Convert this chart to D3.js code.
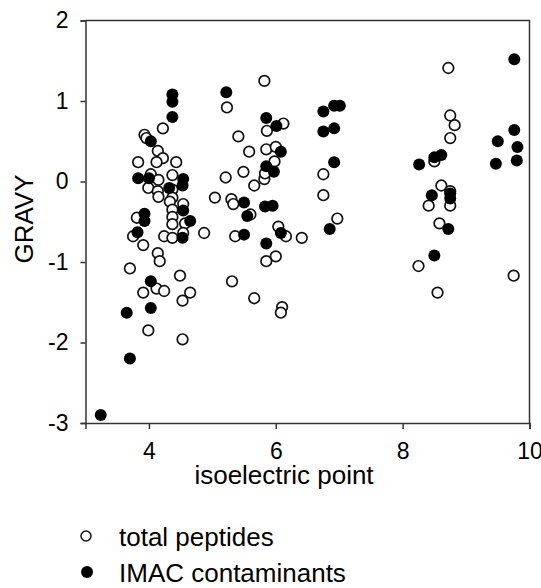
<!DOCTYPE html>
<html>
<head>
<meta charset="utf-8">
<script src="https://cdn.jsdelivr.net/npm/d3@7"></script>
<style>
    html, body { margin: 0; padding: 0; background: #fff; }
    text { font-family: "Liberation Sans", Arial, sans-serif; fill: #000; }
</style>
</head>
<body>
<div id="chart"></div>
<script>
// pI vs GRAVY
const totalPeptides = [
    [3.93, 0.58], [3.96, 0.54], [4.22, 0.66], [4.14, 0.38], [4.22, 0.29], [4.12, 0.24],
    [3.83, 0.24], [4.43, 0.24], [4.03, 0.09], [4.15, 0.02], [4.37, 0.08], [3.99, -0.08],
    [4.14, -0.12], [4.15, -0.19], [4.37, -0.10], [4.37, -0.20], [4.33, -0.25], [4.54, -0.28],
    [4.37, -0.35], [4.37, -0.44], [4.37, -0.53], [4.57, -0.52], [3.81, -0.45], [3.75, -0.68],
    [3.91, -0.79], [4.24, -0.68], [4.37, -0.70], [4.54, -0.64], [4.87, -0.64], [4.14, -0.89],
    [4.17, -0.99], [3.70, -1.08], [4.12, -1.33], [4.24, -1.36], [3.91, -1.38], [4.49, -1.17],
    [4.65, -1.38], [4.53, -1.48], [3.99, -1.85], [4.53, -1.96],
    [5.82, 1.25], [5.23, 0.92], [5.86, 0.63], [6.12, 0.72], [5.41, 0.56], [5.58, 0.37],
    [5.85, 0.40], [6.00, 0.43], [5.98, 0.25], [5.49, 0.12], [5.21, 0.05], [5.82, 0.03],
    [5.83, 0.10], [5.66, -0.05], [5.04, -0.20], [5.30, -0.22], [5.33, -0.28], [5.60, -0.41],
    [5.36, -0.68], [6.04, -0.56], [6.16, -0.68], [6.41, -0.70], [6.00, -0.93], [5.85, -0.99],
    [5.31, -1.24], [5.66, -1.45], [6.10, -1.56], [6.08, -1.63],
    [6.75, 0.09], [6.75, -0.17], [6.97, -0.46],
    [8.72, 1.41], [8.75, 0.82], [8.82, 0.70], [8.75, 0.54], [8.50, 0.25], [8.61, -0.05],
    [8.41, -0.30], [8.75, -0.30], [8.75, -0.12], [8.58, -0.52], [8.25, -1.05], [8.55, -1.38],
    [9.75, -1.17]
];

const imacContaminants = [
    [4.37, 1.08], [4.37, 0.99], [4.37, 0.80], [4.03, 0.50], [3.83, 0.04], [4.00, 0.04],
    [4.54, 0.03], [4.53, -0.05], [4.32, -0.08], [3.93, -0.40], [3.93, -0.49], [4.54, -0.36],
    [4.65, -0.49], [3.82, -0.63], [4.53, -0.70], [4.03, -1.24], [4.03, -1.57], [3.65, -1.63],
    [3.70, -2.20], [3.24, -2.90],
    [5.22, 1.11], [5.85, 0.79], [6.01, 0.69], [6.08, 0.37], [5.85, 0.19], [5.97, 0.12],
    [5.50, -0.26], [5.83, -0.31], [5.95, -0.30], [5.55, -0.43], [5.50, -0.66], [5.85, -0.77],
    [6.08, -0.64],
    [6.75, 0.87], [6.92, 0.94], [7.01, 0.94], [6.75, 0.62], [6.92, 0.66], [6.92, 0.24],
    [6.85, -0.59],
    [8.26, 0.21], [8.50, 0.30], [8.61, 0.33], [8.46, -0.17], [8.75, -0.15], [8.75, -0.21],
    [8.72, -0.59], [8.50, -0.92],
    [9.76, 1.52], [9.76, 0.64], [9.50, 0.50], [9.81, 0.43], [9.47, 0.22], [9.80, 0.26]
];

const xTicks = [4, 6, 8, 10];
const yTicks = [-3, -2, -1, 0, 1, 2];
const xTitle = "isoelectric point";
const yTitle = "GRAVY";
const legendLabels = ["total peptides", "IMAC contaminants"];

const width = 541, height = 588;

const svg = d3.select("#chart")
    .append("svg")
    .attr("width", width)
    .attr("height", height);

const x = d3.scaleLinear().domain([3, 10]).range([85.5, 529.5]);
const y = d3.scaleLinear().domain([-3, 2]).range([423, 20.5]);

const axisColor = "#333";

// frame (top + right)
svg.append("path")
    .attr("d", `M${x(3)},${y(2)}H${x(10)}V${y(-3)}`)
    .attr("fill", "none")
    .attr("stroke", axisColor)
    .attr("stroke-width", 1.5);

const xAxis = svg.append("g")
    .attr("transform", `translate(0,${y(-3)})`)
    .call(d3.axisBottom(x).tickValues(xTicks).tickSize(6).tickPadding(14)
        .tickFormat(d => String(d)));

const yAxis = svg.append("g")
    .attr("transform", `translate(${x(3)},0)`)
    .call(d3.axisLeft(y).tickValues(yTicks).tickSize(5).tickPadding(12)
        .tickFormat(d => String(d)));

[xAxis, yAxis].forEach(g => {
    g.select(".domain").attr("stroke", axisColor).attr("stroke-width", 1.5);
    g.selectAll(".tick line").attr("stroke", axisColor).attr("stroke-width", 1.5);
    g.selectAll(".tick text")
        .attr("fill", "#000")
        .style("font-size", "23px")
        .style("font-family", "'Liberation Sans', Arial, sans-serif");
});

// axis titles
svg.append("text")
    .attr("x", 284)
    .attr("y", 484)
    .attr("text-anchor", "middle")
    .style("font-size", "26px")
    .text(xTitle);

svg.append("text")
    .attr("transform", "translate(33,219) rotate(-90)")
    .attr("text-anchor", "middle")
    .style("font-size", "26px")
    .text(yTitle);

// points: open first, filled on top
svg.append("g")
    .selectAll("circle")
    .data(totalPeptides)
    .enter().append("circle")
    .attr("cx", d => x(d[0]))
    .attr("cy", d => y(d[1]))
    .attr("r", 5.3)
    .attr("fill", "#fff")
    .attr("stroke", "#111")
    .attr("stroke-width", 1.7);

svg.append("g")
    .selectAll("circle")
    .data(imacContaminants)
    .enter().append("circle")
    .attr("cx", d => x(d[0]))
    .attr("cy", d => y(d[1]))
    .attr("r", 6)
    .attr("fill", "#000");

// legend
const legend = svg.append("g");
legend.append("circle")
    .attr("cx", 86).attr("cy", 536).attr("r", 5)
    .attr("fill", "#fff").attr("stroke", "#111").attr("stroke-width", 1.5);
legend.append("circle")
    .attr("cx", 87).attr("cy", 572).attr("r", 6)
    .attr("fill", "#000");
legend.selectAll("text")
    .data(legendLabels)
    .enter().append("text")
    .attr("x", 119)
    .attr("y", (d, i) => 546 + i * 36)
    .style("font-size", "26px")
    .text(d => d);
</script>
</body>
</html>
